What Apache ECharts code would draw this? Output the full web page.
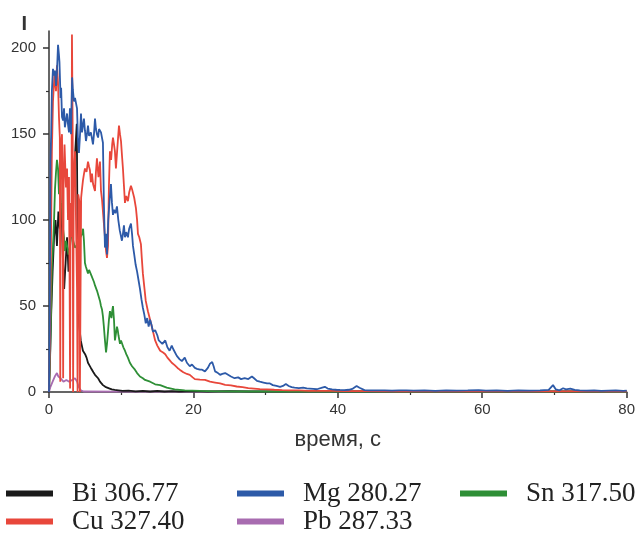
<!DOCTYPE html>
<html><head><meta charset="utf-8">
<script src="https://cdn.jsdelivr.net/npm/echarts@6/dist/echarts.min.js"></script>
<style>html,body{margin:0;padding:0;background:#fff}#c{width:638px;height:537px}</style>
</head><body><div id="c"></div>
<script>
const xTicks = [0, 20, 40, 60, 80];
const yTicks = [0, 50, 100, 150, 200];
const yMinorTicks = [25, 75, 125, 175];
const seriesNames = ['Bi 306.77', 'Mg 280.27', 'Sn 317.50', 'Cu 327.40', 'Pb 287.33'];

// [time s, intensity]
const mg = [[0,0],[0.1,40],[0.2,134],[0.3,150],[0.4,175],[0.55,188],[0.7,184],[0.83,187],[0.97,178],[1.1,186],[1.25,202],[1.38,196],[1.45,192],[1.6,171],[1.68,177],[1.8,160],[1.95,158],[2.08,165],[2.2,154],[2.35,158],[2.5,162],[2.65,155],[2.77,151],[2.9,165],[3.05,150],[3.2,183],[3.3,176],[3.46,169],[3.6,171],[3.74,168],[3.88,165],[4.0,148],[4.15,139],[4.3,150],[4.43,162],[4.57,151],[4.7,155],[4.84,159],[4.98,152],[5.12,146],[5.26,150],[5.4,155],[5.55,149],[5.67,148],[5.8,151],[5.95,152],[6.09,144],[6.23,150],[6.37,159],[6.5,153],[6.64,150],[6.8,148],[6.93,153],[7.06,153],[7.2,151],[7.34,150],[7.47,145],[7.6,110],[7.75,84],[7.9,92],[8.03,80],[8.2,100],[8.4,112],[8.58,121],[8.72,110],[8.86,103],[9.0,106],[9.2,104],[9.41,108],[9.6,100],[9.8,94],[10.1,88],[10.24,92],[10.38,97],[10.52,90],[10.7,93],[10.93,90],[11.1,95],[11.35,98],[11.5,92],[11.63,85],[11.8,80],[12.0,74],[12.2,70],[12.4,65],[12.6,60],[12.8,54],[13.0,49],[13.2,45],[13.4,40],[13.6,43],[13.8,38],[14.0,42],[14.2,39],[14.4,35],[14.7,36],[15.0,33],[15.2,30],[15.4,31],[15.7,28],[16.1,30],[16.4,26],[16.7,24],[17.0,27],[17.2,25],[17.4,26],[17.7,21],[18.1,19],[18.4,18],[18.8,20],[19.1,17],[19.5,15],[19.8,16],[20.2,14],[20.5,13.5],[20.9,13],[21.2,13],[21.6,12],[22.0,14],[22.3,16.5],[22.6,17.5],[22.8,15],[23.0,12],[23.4,11],[23.7,10],[24.0,10.5],[24.4,11],[24.8,10],[25.2,9],[25.7,8],[26.2,8.5],[26.6,7.5],[27.1,8],[27.6,7.5],[28.1,9],[28.4,8],[28.8,6.5],[29.2,6],[29.7,5.5],[30.2,5],[30.6,5],[31.0,4],[31.5,3.5],[32.0,3],[32.4,3.5],[32.8,4.6],[33.2,3.5],[33.6,2.8],[34.0,2.5],[34.6,2.3],[35.2,2.6],[35.7,2.1],[36.1,2],[36.6,1.8],[37.1,1.6],[37.6,2.2],[38.2,3],[38.6,2],[39.2,1.5],[39.8,1.3],[40.3,1.2],[40.9,1.1],[41.5,1.3],[42.0,1.8],[42.6,3.5],[43.0,2.5],[43.7,1.1],[44.5,1],[45.5,0.9],[46.5,1],[47.5,0.8],[48.5,0.9],[49.5,1],[50.5,0.8],[52,0.9],[53.5,0.7],[55,1],[56.5,0.8],[58,0.9],[59.5,1.1],[60.5,0.8],[62,0.9],[63.5,0.7],[65,0.9],[66.5,0.8],[68,1],[69.2,1.2],[69.8,4],[70.2,1.5],[70.7,1],[71.2,2.2],[71.6,1.5],[72.2,2],[72.8,1.2],[73.5,1],[74.5,0.8],[75.5,0.9],[76.5,0.7],[77.5,0.8],[78.5,0.9],[79.5,0.7],[80,0.8]];

const cu = [[0,0],[0.14,30],[0.28,90],[0.4,140],[0.55,169],[0.76,185],[0.97,175],[1.1,190],[1.25,180],[1.38,160],[1.5,148],[1.56,6],[1.62,140],[1.8,150],[1.9,110],[1.96,8],[2.02,120],[2.15,144],[2.35,119],[2.5,130],[2.63,100],[2.77,125],[2.86,60],[2.92,2],[2.98,110],[3.11,90],[3.18,208],[3.28,150],[3.34,0],[3.42,120],[3.6,140],[3.74,100],[3.88,60],[3.96,0],[4.05,115],[4.2,111],[4.28,0],[4.36,1],[4.45,113],[4.57,118],[4.7,123],[4.85,127],[4.98,130],[5.2,128],[5.4,134],[5.55,131],[5.67,129],[5.8,122],[5.95,127],[6.1,121],[6.23,119],[6.37,117],[6.5,128],[6.64,136],[6.75,130],[6.85,125],[6.95,129],[7.06,134],[7.2,117],[7.34,112],[7.47,105],[7.6,98],[7.75,90],[7.9,82],[8.03,78],[8.17,85],[8.3,120],[8.44,140],[8.6,135],[8.75,144],[8.86,148],[9.0,144],[9.13,140],[9.27,130],[9.4,138],[9.55,147],[9.69,155],[9.83,150],[9.97,146],[10.1,138],[10.24,130],[10.38,120],[10.52,110],[10.7,114],[10.93,111],[11.1,116],[11.35,120],[11.5,118],[11.63,117],[11.8,113],[12.04,107],[12.2,100],[12.32,92],[12.5,90],[12.73,86],[12.85,78],[13.0,69],[13.2,61],[13.4,53],[13.7,47],[14.0,42],[14.3,37],[14.7,30],[15.0,27],[15.4,24],[15.8,23],[16.1,22],[16.4,20],[16.7,18.5],[17.0,17],[17.4,15.6],[17.8,14],[18.1,13],[18.6,11.5],[19.1,10.5],[19.5,10],[19.9,8.5],[20.2,7.5],[20.9,7.2],[21.6,7],[22.3,6],[23.0,5.5],[23.7,5],[24.4,4.2],[25.2,3.8],[26.0,3.2],[26.8,2.8],[27.6,2.3],[28.4,2],[29.2,1.7],[30.2,1.5],[31.2,1.3],[32.3,1.1],[33.4,1],[34.6,0.9],[36,0.7],[37.5,0.6],[39,0.6],[41,0.5],[44,0.5],[48,0.4],[52,0.5],[56,0.4],[60,0.4],[65,0.5],[70,0.4],[75,0.4],[80,0.4]];

const sn = [[0,0],[0.14,20],[0.28,45],[0.42,75],[0.55,84],[0.7,100],[0.83,118],[0.97,128],[1.1,135],[1.25,130],[1.38,115],[1.52,125],[1.66,110],[1.8,107],[1.94,95],[2.08,90],[2.2,82],[2.35,88],[2.5,85],[2.7,80],[2.9,84],[3.05,90],[3.18,95],[3.35,88],[3.6,84],[3.8,83],[4.0,86],[4.2,89],[4.43,90],[4.6,92],[4.72,95],[4.84,88],[4.98,75],[5.1,73],[5.2,72],[5.3,74],[5.4,69],[5.55,71],[5.67,70],[5.85,68],[6.09,67],[6.23,64],[6.37,62],[6.5,61],[6.64,59],[6.85,56],[7.06,53],[7.2,50],[7.34,48],[7.47,44],[7.6,38],[7.75,30],[7.9,23],[8.03,28],[8.17,35],[8.3,42],[8.44,47],[8.55,45],[8.65,43],[8.75,47],[8.86,50],[9.0,42],[9.13,30],[9.27,34],[9.41,38],[9.52,36],[9.62,33],[9.83,28],[9.97,30],[10.1,29],[10.3,26],[10.52,24],[10.7,22],[10.93,20],[11.2,17],[11.5,15],[11.9,13],[12.2,11],[12.6,9],[13.0,8],[13.3,7],[14.0,6],[14.7,4.5],[15.4,4],[16.3,2.5],[17.4,1.5],[18.8,1],[20.9,0.6],[23,0.4],[26,0.3],[30,0.3],[35,0.2],[40,0.2],[50,0.2],[60,0.2],[70,0.2],[80,0.2]];

const bi = [[0,0],[0.15,20],[0.3,45],[0.5,70],[0.7,90],[0.9,100],[1.1,85],[1.3,105],[1.5,95],[1.7,110],[1.9,80],[2.1,60],[2.3,75],[2.5,90],[2.7,70],[2.9,85],[3.1,100],[3.3,115],[3.5,130],[3.7,145],[3.85,156],[3.95,90],[4.05,55],[4.2,38],[4.4,30],[4.55,27],[4.7,24],[4.85,25],[5.0,22],[5.2,20],[5.4,17],[5.6,15.5],[5.8,14],[5.95,13],[6.15,11.5],[6.37,10],[6.6,9],[6.8,8],[7.06,6],[7.3,5],[7.47,4],[7.8,3],[8.03,2.5],[8.4,2],[8.7,1.5],[9.1,1.2],[9.6,1],[10.2,0.6],[11,0.8],[12,0.4],[13,0.7],[14,0.3],[15,0.6],[16,0.3],[17,0.5],[18,0.3],[20,0.5],[22,0.3],[25,0.5],[28,0.3],[31,0.4],[35,0.3],[40,0.4],[45,0.3],[50,0.4],[55,0.3],[60,0.4],[65,0.3],[70,0.4],[75,0.3],[80,0.4]];

const pb = [[0,0],[0.2,3],[0.5,6],[0.8,9],[1.1,11],[1.3,9],[1.6,8],[2.0,6],[2.4,7],[2.8,6],[3.2,7],[3.6,8],[3.9,6],[4.1,3],[4.4,1],[4.8,0.3],[10,0.2],[80,0.2]];

const colors = {bi:'#1a1a1a', mg:'#2d5aa8', sn:'#2e8f36', cu:'#e8473b', pb:'#a86cb0'};

const chart = echarts.init(document.getElementById('c'), null, {renderer:'canvas'});
const axisColor = '#333';
const lab = {fontFamily:'Liberation Sans, Arial', fontSize:15, color:'#333'};

function line(name, data, color, z){
  return {name, type:'line', data, showSymbol:false, symbol:'none', z,
    lineStyle:{color, width:1.8}, itemStyle:{color}, animation:false, xAxisIndex:0, yAxisIndex:0};
}
function leg(name, left, top){
  return {data:[name], left, top, padding:0, itemWidth:47, itemHeight:6, icon:'rect',
    selectedMode:false,
    textStyle:{fontFamily:'Liberation Serif, Times New Roman, serif', fontSize:27, color:'#222', padding:[0,0,0,14]}};
}

chart.setOption({
  backgroundColor:'#fff',
  animation:false,
  grid:{left:49, right:11, top:31, bottom:145},
  xAxis:{type:'value', min:0, max:80, interval:20,
    name:'время, с', nameLocation:'middle', nameGap:48,
    nameTextStyle:{fontFamily:'Liberation Sans, Arial', fontSize:22, color:'#333', verticalAlign:'middle'},
    axisLine:{show:true, onZero:false, lineStyle:{color:axisColor, width:1.5}},
    axisTick:{show:true, length:6, lineStyle:{color:axisColor, width:1.5}},
    minorTick:{show:true, splitNumber:2, length:3, lineStyle:{color:axisColor, width:1.2}},
    axisLabel:Object.assign({margin:10, customValues:xTicks}, lab),
    splitLine:{show:false}},
  yAxis:[{type:'value', min:0, max:210, interval:50, position:'left',
    name:'I', nameLocation:'end', nameGap:-3,
    nameTextStyle:{fontFamily:'Liberation Sans, Arial', fontSize:20, fontWeight:'bold', color:'#333', align:'right', verticalAlign:'bottom', padding:[0,22,0,0]},
    axisLine:{show:true, onZero:false, lineStyle:{color:axisColor, width:1.5}},
    axisTick:{show:true, length:6, customValues:yTicks, lineStyle:{color:axisColor, width:1.5}},
    axisLabel:Object.assign({margin:13, customValues:yTicks}, lab),
    splitLine:{show:false}},
   {type:'value', min:0, max:210, interval:50, position:'left',
    axisLine:{show:false}, axisLabel:{show:false}, splitLine:{show:false},
    axisTick:{show:true, length:3, customValues:yMinorTicks, lineStyle:{color:axisColor, width:1.2}}}],
  legend:[
    leg(seriesNames[0], 6, 480),
    leg(seriesNames[1], 237, 480),
    leg(seriesNames[2], 460, 480),
    leg(seriesNames[3], 6, 508),
    leg(seriesNames[4], 237, 508)
  ],
  series:[
    line(seriesNames[4], pb, colors.pb, 2),
    line(seriesNames[0], bi, colors.bi, 3),
    line(seriesNames[2], sn, colors.sn, 4),
    line(seriesNames[3], cu, colors.cu, 5),
    line(seriesNames[1], mg, colors.mg, 6)
  ]
});
</script></body></html>
